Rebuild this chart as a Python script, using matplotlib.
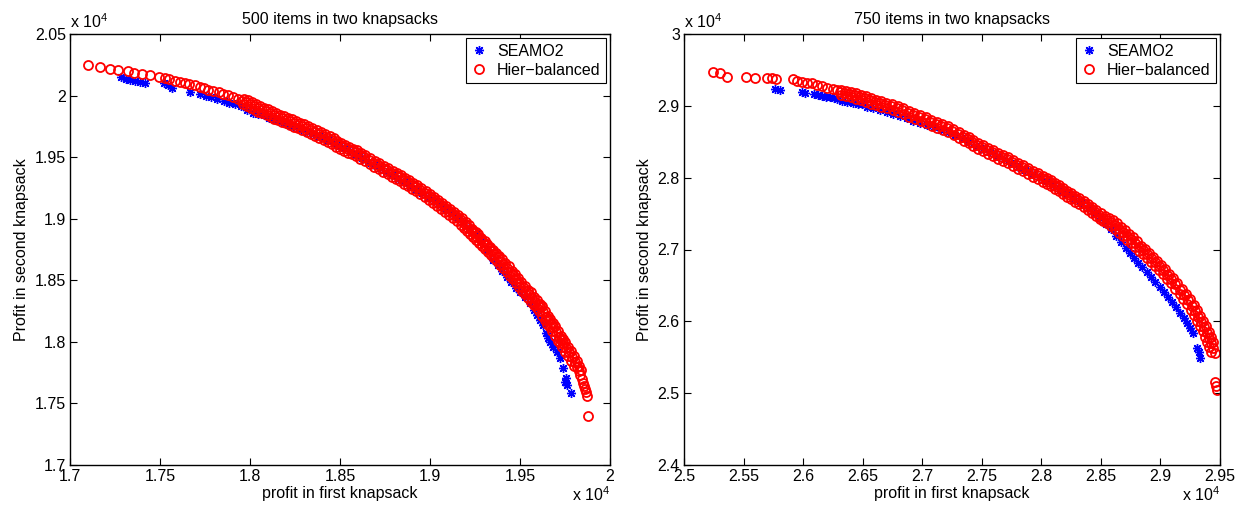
import numpy as np
import matplotlib.pyplot as plt

plt.rcParams['font.family'] = ['Liberation Sans', 'DejaVu Sans']
plt.rcParams['mathtext.fontset'] = 'custom'
plt.rcParams['mathtext.rm'] = 'Liberation Sans'

# Non-dominated fronts, (profit in knapsack 1, profit in knapsack 2)
hier_500 = [
    (17100, 20248), (17166, 20232), (17221, 20216), (17266, 20208), (17321, 20200),
    (17354, 20183), (17399, 20175), (17443, 20167), (17493, 20151), (17526, 20143),
    (17548, 20135), (17581, 20118), (17609, 20110), (17637, 20102), (17659, 20094),
    (17692, 20086), (17720, 20070), (17747, 20061), (17769, 20045), (17797, 20037),
    (17825, 20029), (17852, 20013), (17880, 20005), (17908, 19988), (17935, 19972),
    (17958, 19956), (17980, 19948), (18002, 19932), (18024, 19915), (18046, 19899),
    (18068, 19883), (18090, 19875), (18113, 19858), (18135, 19842), (18157, 19826),
    (18179, 19818), (18201, 19802), (18223, 19793), (18245, 19777), (18268, 19761),
    (18290, 19753), (18312, 19737), (18339, 19720), (18362, 19704), (18384, 19688),
    (18406, 19672), (18434, 19655), (18456, 19639), (18478, 19615), (18500, 19599),
    (18522, 19582), (18544, 19566), (18566, 19550), (18589, 19542), (18611, 19517),
    (18633, 19501), (18661, 19477), (18688, 19452), (18710, 19436), (18738, 19412),
    (18760, 19396), (18788, 19371), (18810, 19355), (18832, 19339), (18854, 19314),
    (18876, 19298), (18899, 19274), (18921, 19257), (18943, 19233), (18970, 19209),
    (18993, 19184), (19015, 19160), (19037, 19136), (19059, 19111), (19081, 19087),
    (19103, 19063), (19125, 19038), (19148, 19014), (19170, 18990), (19192, 18957),
    (19208, 18933), (19225, 18908), (19242, 18884), (19258, 18860), (19275, 18835),
    (19292, 18811), (19308, 18786), (19325, 18762), (19341, 18738), (19358, 18713),
    (19375, 18689), (19391, 18657), (19408, 18632), (19430, 18600), (19447, 18567),
    (19463, 18543), (19480, 18510), (19496, 18478), (19518, 18445), (19535, 18413),
    (19552, 18389), (19568, 18356), (19585, 18324), (19601, 18299), (19613, 18283),
    (19629, 18242), (19646, 18202), (19657, 18177), (19673, 18145), (19684, 18121),
    (19701, 18080), (19718, 18039), (19729, 18015), (19740, 17991), (19756, 17950),
    (19773, 17918), (19790, 17877), (19806, 17836), (19817, 17796), (19828, 17763),
    (19834, 17731), (19845, 17698), (19851, 17666), (19856, 17641), (19862, 17617),
    (19867, 17593), (19873, 17560), (19878, 17398),
    # lower edge of the dense part of the front
    (17959, 19930), (17981, 19918), (18003, 19902), (18025, 19885), (18047, 19869),
    (18069, 19857), (18092, 19845), (18114, 19828), (18136, 19812), (18158, 19800),
    (18180, 19788), (18202, 19776), (18224, 19763), (18247, 19747), (18269, 19735),
    (18291, 19723), (18316, 19707), (18341, 19690), (18363, 19674), (18385, 19658),
    (18410, 19642), (18435, 19625), (18457, 19605), (18479, 19585), (18501, 19569),
    (18523, 19552), (18545, 19536), (18568, 19524), (18590, 19508), (18612, 19487),
    (18637, 19467), (18665, 19443), (18689, 19422), (18714, 19402), (18739, 19382),
    (18764, 19362), (18789, 19341), (18811, 19325), (18833, 19305), (18855, 19284),
    (18878, 19264), (18900, 19244), (18922, 19223), (18947, 19199), (18972, 19175),
    (18994, 19150), (19016, 19126), (19038, 19102), (19060, 19077), (19082, 19053),
    (19104, 19029), (19127, 19004), (19149, 18980), (19171, 18952), (19190, 18923),
    (19205, 18902), (19222, 18877), (19238, 18853), (19255, 18829), (19272, 18804),
    (19288, 18780), (19305, 18755), (19321, 18731), (19338, 18707), (19355, 18682),
    (19371, 18654), (19388, 18626), (19407, 18597), (19427, 18565), (19443, 18536),
    (19460, 18508), (19476, 18475), (19495, 18443), (19513, 18413), (19530, 18385),
    (19546, 18357), (19563, 18324), (19579, 18296), (19593, 18275), (19607, 18247),
    (19624, 18206), (19638, 18174), (19651, 18145), (19665, 18117), (19679, 18085),
    (19696, 18044), (19710, 18011), (19721, 17987), (19734, 17955), (19751, 17918),
    (19768, 17882), (19784, 17841), (19798, 17800),
    # upper edge of the dense part of the front
    (17966, 19972), (17988, 19964), (18010, 19948), (18032, 19931), (18054, 19915),
    (18076, 19899), (18098, 19891), (18121, 19874), (18143, 19858), (18165, 19842),
    (18187, 19834), (18209, 19818), (18231, 19809), (18253, 19793), (18276, 19777),
    (18298, 19769), (18320, 19753), (18347, 19736), (18370, 19720), (18392, 19704),
    (18414, 19688), (18442, 19671), (18464, 19655), (18486, 19631), (18508, 19615),
    (18530, 19598), (18552, 19582), (18574, 19566), (18597, 19558), (18619, 19533),
    (18641, 19517), (18669, 19493), (18696, 19468), (18718, 19452), (18746, 19428),
    (18768, 19412), (18796, 19387), (18818, 19371), (18840, 19355), (18862, 19330),
    (18884, 19314), (18907, 19290), (18929, 19273), (18951, 19249), (18978, 19225),
    (19001, 19200), (19023, 19176), (19045, 19152), (19067, 19127), (19089, 19103),
    (19111, 19079), (19133, 19054), (19156, 19030), (19178, 19006), (19200, 18973),
    (19219, 18945), (19236, 18920), (19253, 18896), (19269, 18872), (19286, 18847),
    (19303, 18823), (19319, 18798), (19336, 18774), (19352, 18750), (19369, 18725),
    (19386, 18701), (19402, 18669), (19419, 18644), (19441, 18612), (19458, 18579),
    (19474, 18555), (19491, 18522), (19507, 18490), (19529, 18457), (19546, 18425),
    (19563, 18401), (19579, 18368), (19596, 18336), (19612, 18311), (19624, 18295),
    (19641, 18250), (19658, 18210), (19669, 18185), (19685, 18153), (19696, 18129),
    (19713, 18088), (19730, 18047), (19741, 18023), (19752, 17999), (19768, 17958),
    (19785, 17926), (19802, 17885), (19818, 17844), (19829, 17804), (19840, 17771),
]
seamo2_500 = [
    (17282, 20151), (17310, 20135), (17332, 20126), (17360, 20118), (17387, 20110),
    (17415, 20102), (17520, 20102), (17542, 20086), (17565, 20061), (17664, 20029),
    (17720, 20013), (17753, 19997), (17786, 19988), (17819, 19972), (17858, 19956),
    (17886, 19940), (17919, 19932), (17952, 19915), (17985, 19883), (18018, 19858),
    (18046, 19850), (18079, 19842), (18107, 19818), (18140, 19802), (18173, 19785),
    (18201, 19769), (18229, 19753), (18256, 19745), (18284, 19729), (18317, 19704),
    (18351, 19688), (18384, 19672), (18411, 19655), (18434, 19639), (18467, 19615),
    (18494, 19590), (18522, 19574), (18555, 19550), (18589, 19517), (18622, 19493),
    (18655, 19460), (18688, 19436), (18721, 19412), (18755, 19379), (18788, 19355),
    (18821, 19322), (18854, 19298), (18887, 19266), (18921, 19241), (18954, 19209),
    (18987, 19176), (19020, 19144), (19053, 19111), (19087, 19079), (19120, 19046),
    (19153, 19014), (19186, 18973), (19219, 18925), (19253, 18876), (19286, 18828),
    (19319, 18746), (19352, 18665), (19375, 18624), (19402, 18575), (19430, 18527),
    (19452, 18486), (19480, 18437), (19502, 18405), (19530, 18364), (19557, 18315),
    (19579, 18259), (19596, 18218), (19613, 18177), (19629, 18137), (19646, 18072),
    (19657, 18031), (19668, 17999), (19684, 17958), (19707, 17918), (19723, 17869),
    (19740, 17788), (19751, 17674), (19756, 17706), (19762, 17650), (19784, 17585),
]
hier_750 = [
    (25243, 29471), (25302, 29457), (25361, 29401), (25521, 29401), (25596, 29387),
    (25697, 29387), (25739, 29387), (25772, 29374), (25915, 29374), (25949, 29346),
    (25991, 29332), (26033, 29318), (26075, 29318), (26117, 29290), (26159, 29276),
    (26201, 29248), (26251, 29234), (26285, 29220), (26310, 29193), (26352, 29179),
    (26394, 29165), (26436, 29151), (26478, 29123), (26520, 29109), (26562, 29081),
    (26604, 29053), (26646, 29039), (26688, 29012), (26738, 28998), (26788, 28970),
    (26830, 28942), (26881, 28900), (26923, 28872), (26973, 28845), (27023, 28817),
    (27065, 28775), (27116, 28747), (27158, 28719), (27208, 28691), (27250, 28650),
    (27300, 28608), (27342, 28566), (27384, 28538), (27418, 28497), (27460, 28455),
    (27502, 28427), (27544, 28385), (27586, 28357), (27628, 28316), (27670, 28288),
    (27712, 28260), (27754, 28218), (27796, 28176), (27838, 28149), (27880, 28107),
    (27922, 28065), (27964, 28037), (28006, 27995), (28039, 27968), (28073, 27940),
    (28107, 27898), (28140, 27871), (28174, 27829), (28207, 27787), (28241, 27759),
    (28274, 27717), (28308, 27689), (28350, 27647), (28384, 27605), (28417, 27564),
    (28451, 27522), (28484, 27480), (28518, 27439), (28552, 27411), (28585, 27383),
    (28619, 27341), (28652, 27286), (28686, 27244), (28719, 27188), (28753, 27146),
    (28787, 27091), (28820, 27035), (28854, 26993), (28887, 26937), (28921, 26882),
    (28955, 26826), (28988, 26770), (29022, 26715), (29055, 26645), (29089, 26589),
    (29122, 26520), (29164, 26436), (29198, 26367), (29232, 26297), (29265, 26213),
    (29290, 26144), (29316, 26060), (29341, 25991), (29366, 25921), (29391, 25838),
    (29408, 25768), (29425, 25698), (29441, 25629), (29458, 25559), (29458, 25156),
    (29467, 25100), (29475, 25044),
    # lower edge of the dense part of the front
    (26320, 29148), (26362, 29134), (26404, 29120), (26446, 29099), (26488, 29078),
    (26530, 29057), (26572, 29029), (26614, 29008), (26656, 28988), (26702, 28967),
    (26752, 28946), (26798, 28918), (26845, 28883), (26891, 28848), (26937, 28821),
    (26987, 28793), (27033, 28758), (27080, 28723), (27126, 28695), (27172, 28667),
    (27218, 28633), (27264, 28591), (27310, 28549), (27352, 28514), (27390, 28480),
    (27428, 28438), (27470, 28403), (27512, 28368), (27554, 28333), (27596, 28299),
    (27638, 28264), (27680, 28236), (27722, 28201), (27764, 28159), (27806, 28125),
    (27848, 28090), (27890, 28048), (27932, 28013), (27974, 27978), (28012, 27944),
    (28045, 27916), (28079, 27881), (28113, 27847), (28146, 27812), (28180, 27770),
    (28213, 27735), (28247, 27700), (28280, 27665), (28318, 27630), (28356, 27588),
    (28390, 27547), (28423, 27505), (28457, 27463), (28490, 27422), (28520, 27393),
    (28554, 27365), (28587, 27330), (28621, 27282), (28654, 27233), (28688, 27184),
    (28721, 27135), (28755, 27087), (28787, 27035), (28820, 26986), (28854, 26937),
    (28887, 26882), (28921, 26826), (28955, 26770), (28988, 26715), (29022, 26652),
    (29055, 26589), (29089, 26527), (29126, 26450), (29164, 26374), (29193, 26314),
    (29227, 26237), (29256, 26161), (29281, 26084), (29307, 26008), (29332, 25938),
    (29357, 25862), (29378, 25785), (29395, 25715), (29411, 25646), (29428, 25576),
    # upper edge of the dense part of the front
    (26319, 29221), (26361, 29207), (26403, 29193), (26445, 29179), (26487, 29151),
    (26529, 29137), (26571, 29109), (26613, 29081), (26655, 29067), (26697, 29040),
    (26747, 29026), (26797, 28998), (26839, 28970), (26890, 28928), (26932, 28900),
    (26982, 28873), (27032, 28845), (27074, 28803), (27125, 28775), (27167, 28747),
    (27217, 28719), (27259, 28678), (27309, 28636), (27351, 28594), (27393, 28566),
    (27427, 28525), (27469, 28483), (27511, 28455), (27553, 28413), (27595, 28385),
    (27637, 28344), (27679, 28316), (27721, 28288), (27763, 28246), (27805, 28204),
    (27847, 28177), (27889, 28135), (27931, 28093), (27973, 28065), (28015, 28023),
    (28048, 27996), (28082, 27968), (28116, 27926), (28149, 27899), (28183, 27857),
    (28216, 27815), (28250, 27787), (28283, 27745), (28317, 27717), (28359, 27675),
    (28393, 27633), (28426, 27592), (28460, 27550), (28498, 27502), (28532, 27461),
    (28566, 27433), (28599, 27405), (28633, 27363), (28666, 27308), (28700, 27266),
    (28733, 27210), (28767, 27168), (28801, 27113), (28838, 27049), (28872, 27007),
    (28905, 26951), (28939, 26896), (28973, 26840), (29006, 26784), (29040, 26729),
    (29073, 26659), (29107, 26603), (29140, 26534), (29182, 26450), (29216, 26381),
    (29252, 26305), (29285, 26221), (29310, 26152), (29336, 26068), (29361, 25999),
    (29386, 25929), (29411, 25846), (29428, 25776), (29445, 25706),
]
seamo2_750 = [
    (25764, 29234), (25806, 29220), (25991, 29193), (26016, 29179), (26091, 29165),
    (26125, 29151), (26159, 29137), (26192, 29123), (26226, 29123), (26259, 29109),
    (26285, 29095), (26327, 29067), (26369, 29053), (26419, 29039), (26461, 29026),
    (26494, 29026), (26536, 28984), (26587, 28970), (26646, 28942), (26704, 28914),
    (26755, 28886), (26814, 28858), (26872, 28831), (26923, 28789), (26981, 28761),
    (27040, 28733), (27099, 28705), (27158, 28664), (27217, 28636), (27275, 28594),
    (27334, 28552), (27393, 28497), (27452, 28441), (27511, 28399), (27569, 28357),
    (27628, 28302), (27687, 28260), (27746, 28204), (27804, 28149), (27863, 28107),
    (27922, 28051), (27981, 28009), (28039, 27954), (28098, 27898), (28157, 27842),
    (28216, 27787), (28274, 27717), (28333, 27647), (28392, 27578), (28442, 27508),
    (28493, 27439), (28543, 27355), (28585, 27285), (28627, 27188), (28669, 27104),
    (28711, 27021), (28745, 26951), (28778, 26882), (28812, 26812), (28845, 26756),
    (28887, 26687), (28921, 26617), (28955, 26548), (28997, 26478), (29030, 26408),
    (29064, 26339), (29097, 26269), (29131, 26200), (29164, 26116), (29198, 26046),
    (29223, 25977), (29248, 25907), (29274, 25838), (29308, 25629), (29324, 25573),
    (29333, 25490),
]

xticks_500 = [1.7, 1.75, 1.8, 1.85, 1.9, 1.95, 2.0]
yticks_500 = [1.7, 1.75, 1.8, 1.85, 1.9, 1.95, 2.0, 2.05]
xticks_750 = [2.5, 2.55, 2.6, 2.65, 2.7, 2.75, 2.8, 2.85, 2.9, 2.95]
yticks_750 = [2.4, 2.5, 2.6, 2.7, 2.8, 2.9, 3.0]

FS = 11.5


def draw_panel(ax, seamo, hier, xticks, yticks, title):
    s = np.array(seamo) / 1e4
    h = np.array(hier) / 1e4
    ax.plot(s[:, 0], s[:, 1], linestyle='none', marker=(8, 2, 0), ms=6.5,
            mec='blue', mew=1.0, label='SEAMO2')
    ax.plot(h[:, 0], h[:, 1], linestyle='none', marker='o', ms=6.5,
            mfc='none', mec='red', mew=1.3, label='Hier\u2212balanced')
    ax.set_xlim(xticks[0], xticks[-1])
    ax.set_ylim(yticks[0], yticks[-1])
    ax.set_xticks(xticks)
    ax.set_yticks(yticks)
    ax.set_xticklabels(['%g' % t for t in xticks], fontsize=FS)
    ax.set_yticklabels(['%g' % t for t in yticks], fontsize=FS)
    ax.tick_params(direction='in', top=True, right=True, length=5, width=0.8, pad=3)
    for sp in ax.spines.values():
        sp.set_linewidth(1.0)
    ax.set_xlabel('profit in first knapsack', fontsize=FS, labelpad=1)
    ax.set_ylabel('Profit in second knapsack', fontsize=FS, labelpad=4)
    ax.set_title(title, fontsize=FS, pad=7)
    ax.text(0.0, 1.008, r'x $\mathregular{10^{4}}$', transform=ax.transAxes,
            ha='left', va='bottom', fontsize=FS)
    ax.text(1.0, -0.068, r'x $\mathregular{10^{4}}$', transform=ax.transAxes,
            ha='right', va='center', fontsize=FS)
    leg = ax.legend(loc='upper right', fontsize=FS, fancybox=False, framealpha=1,
                    edgecolor='black', borderaxespad=0.25, handletextpad=0.6,
                    handlelength=1.0, labelspacing=0.25, borderpad=0.35)
    leg.get_frame().set_linewidth(0.8)


fig = plt.figure(figsize=(12.44, 5.12), dpi=100)
ax1 = fig.add_axes([70 / 1244, 47 / 512, 540 / 1244, 431 / 512])
ax2 = fig.add_axes([684 / 1244, 47 / 512, 536 / 1244, 431 / 512])

draw_panel(ax1, seamo2_500, hier_500, xticks_500, yticks_500, '500 items in two knapsacks')
draw_panel(ax2, seamo2_750, hier_750, xticks_750, yticks_750, '750 items in two knapsacks')

fig.savefig('out.png', dpi=100)
